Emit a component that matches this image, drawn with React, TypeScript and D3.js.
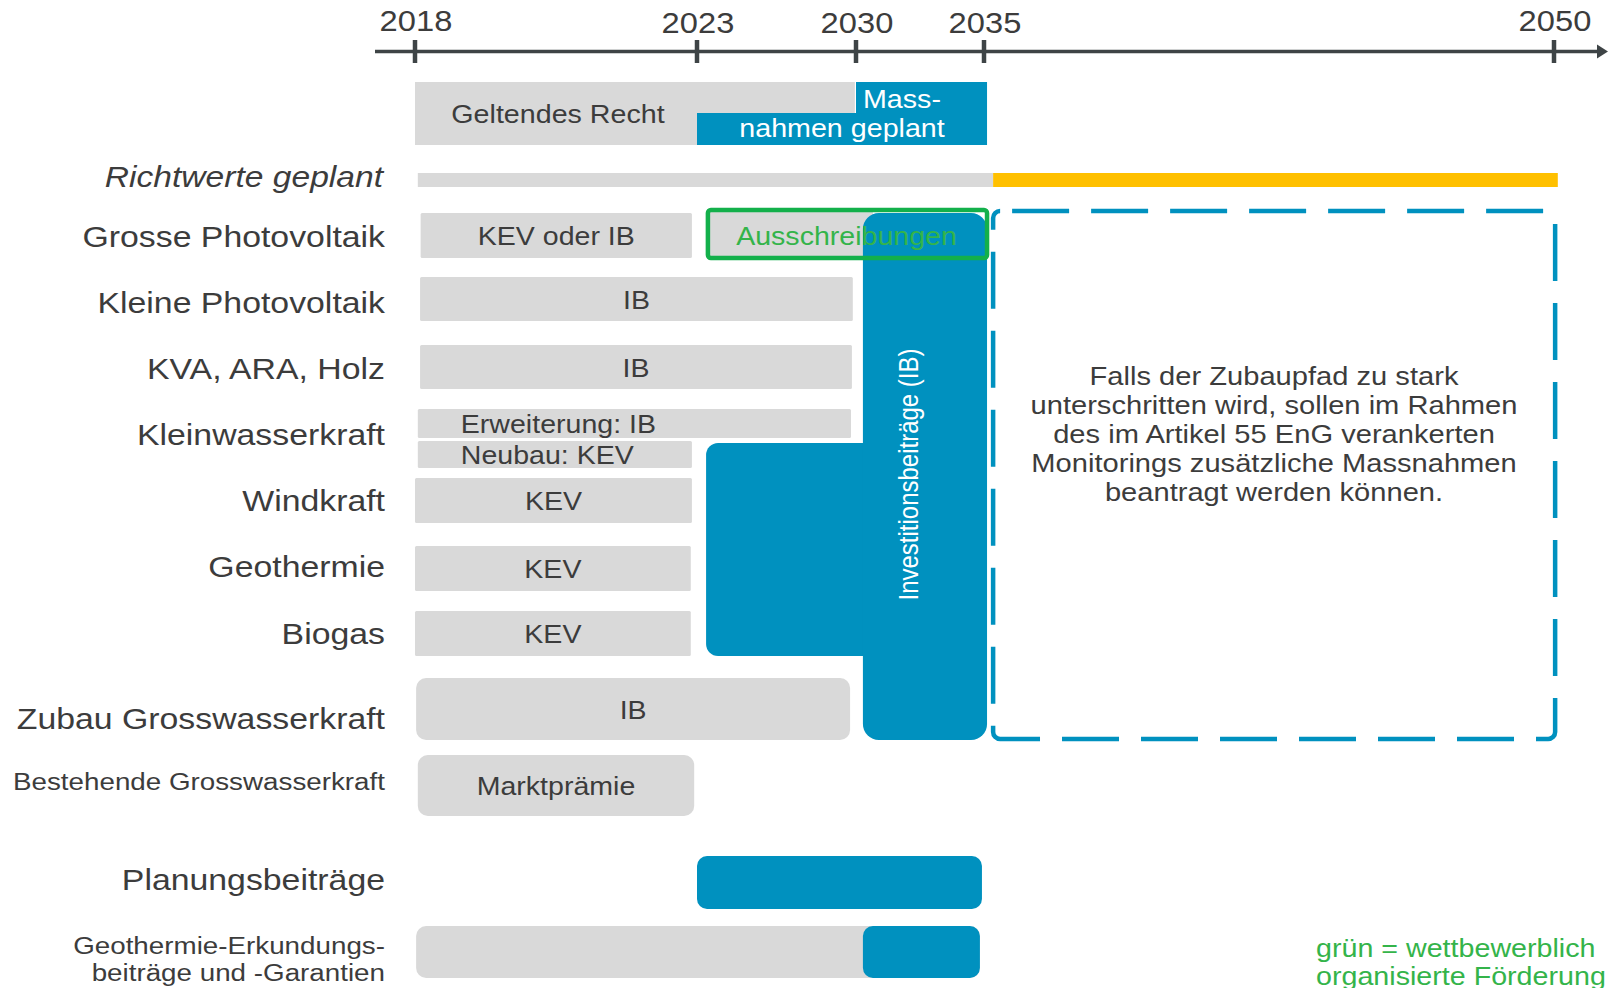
import React from "react";
import * as d3 from "d3";

// ---------- DATA ----------
const YEAR_TICKS = [2018, 2023, 2030, 2035, 2050];

const categories = [
  "Richtwerte geplant",
  "Grosse Photovoltaik",
  "Kleine Photovoltaik",
  "KVA, ARA, Holz",
  "Kleinwasserkraft",
  "Windkraft",
  "Geothermie",
  "Biogas",
  "Zubau Grosswasserkraft",
  "Bestehende Grosswasserkraft",
  "Planungsbeiträge",
  "Geothermie-Erkundungs-|beiträge und -Garantien",
];

// gray (current law) instrument bars: [row, sub-row, start, end, label]
const grayBars: [string, number, number, number, string][] = [
  ["Grosse Photovoltaik", 0, 2018.1, 2022.91, "KEV oder IB"],
  ["Kleine Photovoltaik", 0, 2018.09, 2029.86, "IB"],
  ["KVA, ARA, Holz", 0, 2018.09, 2029.82, "IB"],
  ["Kleinwasserkraft", 1, 2018.05, 2029.78, "Erweiterung: IB"],
  ["Kleinwasserkraft", 2, 2018.05, 2022.91, "Neubau: KEV"],
  ["Windkraft", 0, 2018.0, 2022.91, "KEV"],
  ["Geothermie", 0, 2018.0, 2022.89, "KEV"],
  ["Biogas", 0, 2018.0, 2022.89, "KEV"],
  ["Zubau Grosswasserkraft", 0, 2018.02, 2029.74, "IB"],
  ["Bestehende Grosswasserkraft", 0, 2018.05, 2022.95, "Marktprämie"],
  ["Geothermie-Erkundungs-|beiträge und -Garantien", 0, 2018.02, 2034.84, ""],
];

// planned measures (blue) per row: [row, start, end]
const blueBars: [string, number, number][] = [
  ["Planungsbeiträge", 2023.0, 2034.92],
  ["Geothermie-Erkundungs-|beiträge und -Garantien", 2030.27, 2034.84],
];

// Investitionsbeiträge (IB) – column and side block: [fromRow, toRow, start, end]
const ibColumn: [string, string, number, number] = ["Grosse Photovoltaik", "Zubau Grosswasserkraft", 2030.27, 2035.08];
const ibBlock: [string, string, number, number] = ["Kleinwasserkraft", "Biogas", 2023.4, 2030.27];
const ibLabel = "Investitionsbeiträge (IB)";

// competitive tendering (green)
const tender: [string, number, number, string] = ["Grosse Photovoltaik", 2023.48, 2035.08, "Ausschreibungen"];

// monitoring (dashed) span
const monitoring: [string, string, number, number] = ["Grosse Photovoltaik", "Zubau Grosswasserkraft", 2035.24, 2050.03];
const monitoringText = [
  "Falls der Zubaupfad zu stark",
  "unterschritten wird, sollen im Rahmen",
  "des im Artikel 55 EnG verankerten",
  "Monitorings zusätzliche Massnahmen",
  "beantragt werden können.",
];

// legal framework header
const lawStart = 2018, lawEnd = 2029.95, lawLabel = "Geltendes Recht";
const measuresStartTop = 2030, measuresStartLow = 2023, measuresEnd = 2035.08;
const measuresLabel = ["Mass-", "nahmen geplant"];

// indicative targets
const richtwerte: [number, number, string][] = [
  [2018.05, 2035.24, "current"],
  [2035.24, 2050.1, "planned"],
];

const noteLines = ["grün = wettbewerblich", "organisierte Förderung"];

// ---------- LAYOUT / STYLE ----------
const W = 1608, H = 988;
const YEAR_PX = [415, 697, 856, 984, 1554];
const SX = 1.12; // horizontal text stretch of the reference
const FONT = "'Liberation Sans', Arial, Helvetica, sans-serif";
const GRAY = "#d9d9d9";
const BLUE = "#0091bf";
const GREEN = "#13b04b";
const GREEN_TXT = "#34b44a";
const YELLOW = "#ffc000";
const TXT = "#3c3c3c";
const AXIS = "#3e4446";

const ROW_BOX: Record<string, [number, number][]> = {
  "Richtwerte geplant": [[173, 187]],
  "Grosse Photovoltaik": [[213, 258]],
  "Kleine Photovoltaik": [[277, 321]],
  "KVA, ARA, Holz": [[345, 389]],
  "Kleinwasserkraft": [[409, 468], [409, 438], [441, 468]],
  "Windkraft": [[478, 523]],
  "Geothermie": [[546, 591]],
  "Biogas": [[611, 656]],
  "Zubau Grosswasserkraft": [[678, 740]],
  "Bestehende Grosswasserkraft": [[755, 816]],
  "Planungsbeiträge": [[856, 909]],
  "Geothermie-Erkundungs-|beiträge und -Garantien": [[926, 978]],
};
const LABEL_Y: Record<string, number[]> = {
  "Richtwerte geplant": [176],
  "Grosse Photovoltaik": [236],
  "Kleine Photovoltaik": [302],
  "KVA, ARA, Holz": [368],
  "Kleinwasserkraft": [434],
  "Windkraft": [500],
  "Geothermie": [566],
  "Biogas": [633],
  "Zubau Grosswasserkraft": [718],
  "Bestehende Grosswasserkraft": [781],
  "Planungsbeiträge": [879],
  "Geothermie-Erkundungs-|beiträge und -Garantien": [945, 972],
};
const SMALL_LABELS = new Set(["Bestehende Grosswasserkraft", "Geothermie-Erkundungs-|beiträge und -Garantien"]);
const ROUNDED = new Set(["Zubau Grosswasserkraft", "Bestehende Grosswasserkraft", "Planungsbeiträge", "Geothermie-Erkundungs-|beiträge und -Garantien"]);

function T(props: {
  x: number; y: number; size: number; anchor?: string; fill?: string; italic?: boolean; children: React.ReactNode; rotate?: number;
}) {
  const { x, y, size, anchor = "middle", fill = TXT, italic, children, rotate } = props;
  return (
    <text
      transform={`translate(${x},${y}) scale(${SX},1)${rotate ? ` rotate(${rotate})` : ""}`}
      fontSize={size}
      textAnchor={anchor}
      dy="0.35em"
      fill={fill}
      fontStyle={italic ? "italic" : "normal"}
      fontFamily={FONT}
    >
      {children}
    </text>
  );
}

export default function App() {
  const x = d3.scaleLinear().domain(YEAR_TICKS).range(YEAR_PX);
  const box = (row: string, sub = 0) => ROW_BOX[row][sub];

  const axisY = 51.5;

  const colTop = box(ibColumn[0])[0];
  const colBot = box(ibColumn[1])[1];
  const blkTop = box(ibBlock[0], 2)[0] + 2;
  const blkBot = box(ibBlock[1])[1];

  const tBox = box(tender[0]);
  const mTop = box(monitoring[0])[0] - 2;
  const mBot = box(monitoring[1])[1] - 1;

  const massPath = `M${x(measuresStartTop)},82 H${x(measuresEnd)} V145 H${x(measuresStartLow)} V113 H${x(measuresStartTop)} Z`;

  return (
    <svg width={W} height={H} style={{ position: "absolute", left: 0, top: 0, background: "#fff" }}>
      {/* time axis */}
      <line x1={375} x2={1602} y1={axisY} y2={axisY} stroke={AXIS} strokeWidth={3.5} />
      <path d={`M1597,${axisY - 7} L1608,${axisY} L1597,${axisY + 7} Z`} fill={AXIS} />
      {YEAR_TICKS.map((yr) => (
        <g key={yr}>
          <line x1={x(yr)} x2={x(yr)} y1={40} y2={63} stroke={AXIS} strokeWidth={4.5} />
          <T x={x(yr) + 1} y={yr === 2018 || yr === 2050 ? 21 : 23} size={29.2}>{yr}</T>
        </g>
      ))}

      {/* header: law vs planned measures */}
      <rect x={x(lawStart)} y={82} width={x(lawEnd) - x(lawStart)} height={63} fill={GRAY} />
      <path d={massPath} fill={BLUE} />
      <T x={(x(lawStart) + x(measuresStartLow)) / 2 + 2} y={114} size={25.6}>{lawLabel}</T>
      <T x={902} y={99.5} size={25.6} fill="#fff">{measuresLabel[0]}</T>
      <T x={(x(measuresStartLow) + x(measuresEnd)) / 2} y={128} size={25.6} fill="#fff">{measuresLabel[1]}</T>

      {/* Richtwerte */}
      {richtwerte.map(([s, e, t], i) => (
        <rect key={i} x={x(s)} y={box("Richtwerte geplant")[0]} width={x(e) - x(s)}
          height={box("Richtwerte geplant")[1] - box("Richtwerte geplant")[0]}
          fill={t === "planned" ? YELLOW : GRAY} />
      ))}

      {/* row labels */}
      {categories.map((c) => {
        const lines = c.split("|");
        const small = SMALL_LABELS.has(c);
        const italic = c === "Richtwerte geplant";
        return lines.map((ln, i) => (
          <T key={c + i} x={italic ? 383 : 385} y={LABEL_Y[c][i]} size={small ? 24.8 : italic ? 30.0 : 30.2} anchor="end"
            italic={italic}>{ln}</T>
        ));
      })}

      {/* gray bars */}
      {grayBars.map(([row, sub, s, e], i) => {
        const [t, b] = box(row, sub);
        const r = ROUNDED.has(row) ? 10 : 1.5;
        return <rect key={i} x={x(s)} y={t} width={x(e) - x(s)} height={b - t} rx={r} fill={GRAY} />;
      })}

      {/* gray fill inside tender box */}
      <rect x={x(tender[1])} y={tBox[0] - 3} width={x(ibColumn[2]) - x(tender[1]) + 10} height={tBox[1] - tBox[0] + 3} fill={GRAY} />

      {/* blue bars */}
      {blueBars.map(([row, s, e], i) => {
        const [t, b] = box(row);
        return <rect key={i} x={x(s)} y={t} width={x(e) - x(s)} height={b - t} rx={10} fill={BLUE} />;
      })}

      {/* IB shape */}
      <rect x={x(ibBlock[2])} y={blkTop} width={x(ibBlock[3]) - x(ibBlock[2]) + 20} height={blkBot - blkTop} rx={12} fill={BLUE} />
      <rect x={x(ibColumn[2])} y={colTop} width={x(ibColumn[3]) - x(ibColumn[2])} height={colBot - colTop} rx={16} fill={BLUE} />
      <T x={909} y={(colTop + colBot) / 2 - 2} size={24} fill="#fff" rotate={-90}>{ibLabel}</T>

      {/* tender green box */}
      <rect x={x(tender[1])} y={tBox[0] - 3} width={x(tender[2]) - x(tender[1])} height={tBox[1] - tBox[0] + 3}
        rx={3} fill="none" stroke={GREEN} strokeWidth={4.5} />
      <T x={(x(tender[1]) + x(tender[2])) / 2 - 1} y={tBox[0] + 23} size={25.5} fill={GREEN_TXT}>{tender[3]}</T>

      {/* gray bar labels */}
      {grayBars.map(([row, sub, s, e, lab], i) => {
        if (!lab) return null;
        const [t, b] = box(row, sub);
        const left = row === "Kleinwasserkraft";
        return (
          <T key={"l" + i} x={left ? x(s) + 43 : (x(s) + x(e)) / 2} y={(t + b) / 2 + 1} size={25.5}
            anchor={left ? "start" : "middle"}>{lab}</T>
        );
      })}

      {/* monitoring dashed box */}
      <rect x={x(monitoring[2])} y={mTop} width={x(monitoring[3]) - x(monitoring[2])} height={mBot - mTop}
        rx={7} fill="none" stroke={BLUE} strokeWidth={4.5} strokeDasharray="57 22" strokeDashoffset={-12} />
      {monitoringText.map((ln, i) => (
        <T key={"m" + i} x={1274} y={375.5 + i * 29.2} size={26}>{ln}</T>
      ))}

      {/* note */}
      {noteLines.map((ln, i) => (
        <T key={"n" + i} x={1316} y={948.5 + i * 27.5} size={25.6} anchor="start" fill={GREEN_TXT}>{ln}</T>
      ))}
    </svg>
  );
}
